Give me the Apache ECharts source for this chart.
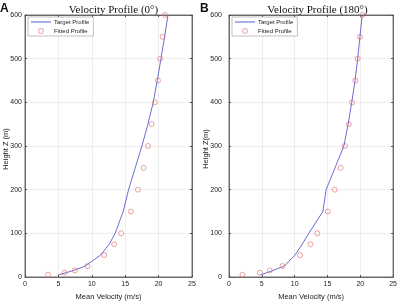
<!DOCTYPE html>
<html>
<head>
<meta charset="utf-8">
<script src="https://cdn.jsdelivr.net/npm/echarts@6/dist/echarts.min.js"></script>
<style>
  html, body { margin: 0; padding: 0; background: #fff; }
  #chart { width: 400px; height: 306px; }
</style>
</head>
<body>
<div id="chart"></div>
<script>
// alturas comunes (m)
const heights = [5, 10, 15, 25, 50, 75, 100, 150, 200, 250, 300, 350, 400, 450, 500, 550, 600];

// Panel A (0°)
const targetA = [5.0, 6.2, 7.3, 9.0, 11.3, 12.6, 13.5, 14.7, 15.5, 16.5, 17.5, 18.4, 19.2, 19.8, 20.35, 20.9, 21.4];
const fittedA = [3.45, 5.9, 7.45, 9.35, 11.85, 13.35, 14.4, 15.85, 16.9, 17.75, 18.4, 18.95, 19.45, 19.9, 20.25, 20.6, 20.95];

// Panel B (180°)
const targetB = [4.8, 5.8, 6.7, 8.4, 10.05, 11.15, 12.15, 14.3, 14.8, 16.15, 17.5, 18.15, 18.7, 19.2, 19.6, 19.95, 20.3];
const fittedB = [2.05, 4.7, 6.2, 8.15, 10.8, 12.4, 13.45, 15.05, 16.1, 17.0, 17.65, 18.25, 18.75, 19.25, 19.6, 19.95, 20.3];

const panels = [
  { letter: 'A', title: 'Velocity Profile (0°)', yName: 'Height Z (m)', target: targetA, fitted: fittedA, left: 25, yNameX: 6, letterX: 0 },
  { letter: 'B', title: 'Velocity Profile (180°)', yName: 'Height Z(m)', target: targetB, fitted: fittedB, left: 229, yNameX: 206, letterX: 200 },
];

const LINE = '#5b5bd0';
const CIRCLE = '#e26a6a';
const AXIS = '#4d4d4d';
const GRIDC = '#e6e6e6';
const FONT = 'Liberation Sans';

const chart = echarts.init(document.getElementById('chart'));

const grid = [], xAxis = [], yAxis = [], series = [], legend = [], title = [], graphic = [];

panels.forEach((p, i) => {
  grid.push({ left: p.left, top: 15, width: 167, height: 268, show: true, borderColor: AXIS, borderWidth: 0.8 });

  const xBase = {
    gridIndex: i, type: 'value', min: 0, max: 25, interval: 5,
    axisLine: { show: true, onZero: false, lineStyle: { color: AXIS, width: 0.8 } },
    axisTick: { show: true, inside: true, length: 2, lineStyle: { color: AXIS } },
  };
  xAxis.push(Object.assign({}, xBase, {
    position: 'bottom',
    name: 'Mean Velocity (m/s)', nameLocation: 'middle', nameGap: 16,
    nameTextStyle: { fontFamily: FONT, fontSize: 7.5, color: '#222' },
    axisLabel: { fontFamily: FONT, fontSize: 7, color: '#222', margin: 4 },
    splitLine: { show: true, lineStyle: { color: GRIDC, width: 0.7 } },
  }));
  xAxis.push(Object.assign({}, xBase, {
    position: 'top', axisLabel: { show: false }, splitLine: { show: false },
  }));

  const yBase = {
    gridIndex: i, type: 'value', min: 0, max: 600, interval: 100,
    axisLine: { show: true, onZero: false, lineStyle: { color: AXIS, width: 0.8 } },
    axisTick: { show: true, inside: true, length: 2, lineStyle: { color: AXIS } },
  };
  yAxis.push(Object.assign({}, yBase, {
    position: 'left',
    axisLabel: { fontFamily: FONT, fontSize: 7, color: '#222', margin: i === 0 ? 3 : 7 },
    splitLine: { show: true, lineStyle: { color: GRIDC, width: 0.7 } },
  }));
  yAxis.push(Object.assign({}, yBase, {
    position: 'right', axisLabel: { show: false }, splitLine: { show: false },
  }));

  series.push({
    name: 'Target Profile', type: 'line', xAxisIndex: i * 2, yAxisIndex: i * 2,
    data: p.target.map((v, k) => [v, heights[k]]),
    symbol: 'none', lineStyle: { color: LINE, width: 0.9 }, itemStyle: { color: LINE },
    z: 3,
  });
  series.push({
    name: 'Fitted Profile', type: 'scatter', xAxisIndex: i * 2, yAxisIndex: i * 2,
    data: p.fitted.map((v, k) => [v, heights[k]]),
    symbol: 'circle', symbolSize: 5,
    itemStyle: { color: 'rgba(255,255,255,0)', borderColor: CIRCLE, borderWidth: 0.8 }, z: 4,
  });

  legend.push({
    data: [
      { name: 'Target Profile', icon: 'path://M0,0 L20,0 L20,1 L0,1 Z' },
      { name: 'Fitted Profile', icon: 'circle',
        itemStyle: { color: 'rgba(255,255,255,0)', borderColor: CIRCLE, borderWidth: 0.8 } },
    ],
    orient: 'vertical', left: p.left + 3, top: 17,
    itemWidth: 20, itemHeight: 5, itemGap: 3,
    padding: [2, 4, 2, 3],
    borderColor: '#999', borderWidth: 0.6, backgroundColor: '#fff',
    textStyle: { fontFamily: FONT, fontSize: 6, color: '#222', padding: [0, 0, 0, -2] },
  });

  title.push({
    text: p.title, left: p.left + 83.5, top: 0, textAlign: 'center',
    textStyle: { fontFamily: 'Liberation Serif', fontSize: 11, fontWeight: 'normal', color: '#111' },
  });

  graphic.push({
    type: 'text', left: p.letterX, top: 3,
    style: { text: p.letter, font: 'bold 12px Liberation Sans', fill: '#111' },
  });
  graphic.push({
    type: 'text', x: p.yNameX, y: 149, rotation: Math.PI / 2,
    style: { text: p.yName, font: '7.5px Liberation Sans', fill: '#222', align: 'center', verticalAlign: 'middle' },
  });
});

chart.setOption({
  animation: false,
  backgroundColor: '#fff',
  title, grid, xAxis, yAxis, legend, series, graphic,
});
</script>
</body>
</html>
